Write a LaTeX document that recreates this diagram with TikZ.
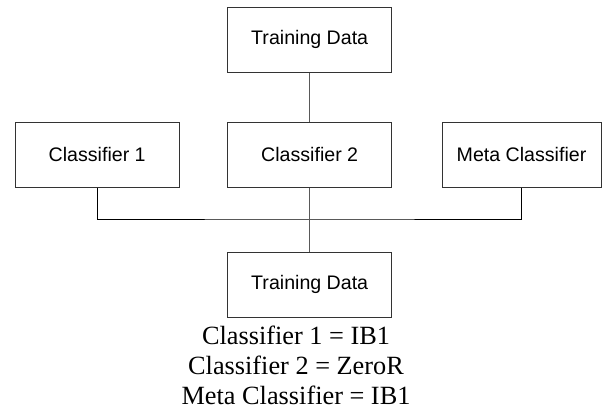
\documentclass[tikz,border=0pt]{standalone}
\usepackage{fontspec}
\setmainfont{Liberation Serif}
\newfontfamily\boxfont{Liberation Sans}
\begin{document}
\begin{tikzpicture}[x=1pt,y=-1pt,
  box/.style={draw=black!80, line width=1pt, minimum width=164pt, minimum height=65pt, inner sep=0pt,
    font=\boxfont\fontsize{19.6}{23}\selectfont},
  conn/.style={draw=black!65, line width=1.1pt},
  bus/.style={draw=black, line width=1pt},
  note/.style={anchor=base, inner sep=0pt, text depth=0pt, font=\fontsize{26.3}{30}\selectfont}]
\useasboundingbox (0,0) rectangle (602,408);
\node[box] (top) at (309.7,39.8) {Training Data};
\node[box] (c1) at (97.2,154.8) {Classifier 1};
\node[box] (c2) at (309.7,154.8) {Classifier 2};
\node[box, minimum width=159pt] (meta) at (521.5,154.8) {Meta Classifier};
\node[box] (bottom) at (309.7,284.8) {Training Data};
\coordinate (busc) at (309.7,219);
\draw[conn] (top.south) -- (c2.north);
\draw[bus] (c1.south) |- (busc) -| (meta.south);
\draw[conn] (c2.south) -- (bottom.north);
\node[note] (n1) at (296,344) {Classifier 1 = IB1};
\node[note] (n2) at (296,374.5) {Classifier 2 = ZeroR};
\node[note] (n3) at (296,404.5) {Meta Classifier = IB1};
\end{tikzpicture}
\end{document}
